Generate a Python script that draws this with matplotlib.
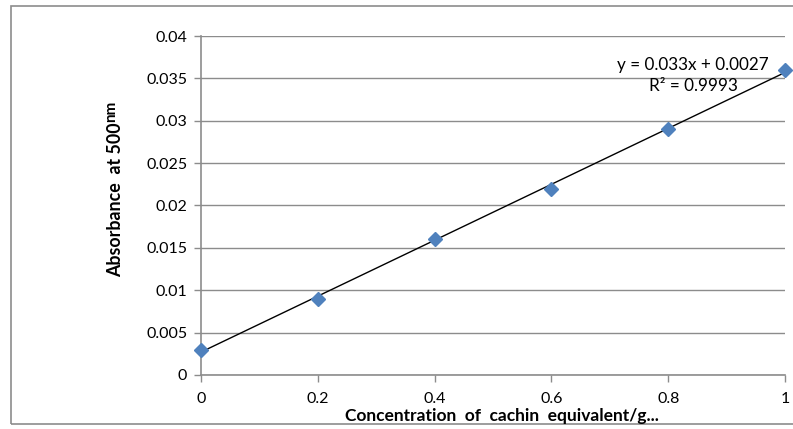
import matplotlib
matplotlib.use("Agg")
import matplotlib.pyplot as plt
from matplotlib.patches import Rectangle
import numpy as np

plt.rcParams.update({
    "font.family": ["Lato", "DejaVu Sans"],
})

# calibration standards
conc = [0, 0.2, 0.4, 0.6, 0.8, 1.0]
absorb = [0.003, 0.009, 0.016, 0.022, 0.029, 0.036]
slope, intercept = 0.033, 0.0027
r2 = 0.9993

x_ticks = [0, 0.2, 0.4, 0.6, 0.8, 1]
x_labels = ["0", "0.2", "0.4", "0.6", "0.8", "1"]
y_ticks = [0, 0.005, 0.01, 0.015, 0.02, 0.025, 0.03, 0.035, 0.04]
y_labels = ["0", "0.005", "0.01", "0.015", "0.02", "0.025", "0.03", "0.035", "0.04"]

GRID = "#8c8c8c"
MARK = "#4F81BD"

fig = plt.figure(figsize=(7.93, 4.29), dpi=100)
ax = fig.add_axes([0.2535, 0.126, 0.7364, 0.790])

# outer chart frame (right edge runs off the canvas)
fig.patches.append(Rectangle((11 / 793, 1 - 424 / 429), 800 / 793, 418.5 / 429,
                             transform=fig.transFigure, fill=False,
                             edgecolor="#8c8c8c", linewidth=1.2))

ax.set_xlim(0, 1)
ax.set_ylim(0, 0.04)
ax.set_xticks(x_ticks)
ax.set_xticklabels(x_labels)
ax.set_yticks(y_ticks)
ax.set_yticklabels(y_labels)
ax.tick_params(axis="both", colors=GRID, labelcolor="black", labelsize=11.5,
               length=5, width=1)
ax.tick_params(axis="x", pad=7)
ax.tick_params(axis="y", pad=5)

for side in ["top", "right"]:
    ax.spines[side].set_visible(False)
for side in ["left", "bottom"]:
    ax.spines[side].set_color(GRID)
    ax.spines[side].set_linewidth(1.2)

ax.yaxis.grid(True, color=GRID, linewidth=1.0)
ax.set_axisbelow(True)

# linear trendline
xs = np.array([conc[0], conc[-1]])
ax.plot(xs, slope * xs + intercept, color="black", linewidth=1.0, zorder=2)

ax.plot(conc, absorb, linestyle="none", marker="D", markersize=7.5,
        color=MARK, clip_on=False, zorder=3)

ax.text(0.843, 0.0375, f"y = {slope}x + {intercept}\nR² = {r2}",
        ha="center", va="top", fontsize=12.3, linespacing=1.4)

# y label with raised unit
ylab = fig.text(116 / 793, 1 - 200 / 429, "Absorbance  at 500",
                rotation=90, ha="center", va="center", fontsize=12.8,
                fontweight="bold")
fig.canvas.draw()
bb = ylab.get_window_extent()
fig.text((bb.x0 - 3) / fig.dpi, (bb.y1 + 1) / fig.dpi, "nm", rotation=90,
         ha="left", va="bottom", fontsize=11, fontweight="bold",
         transform=fig.dpi_scale_trans)

fig.text(502 / 793, 1 - 416 / 429, "Concentration  of  cachin  equivalent/g...",
         ha="center", va="center", fontsize=12.5, fontweight="bold")

fig.savefig("out.png", dpi=100)
